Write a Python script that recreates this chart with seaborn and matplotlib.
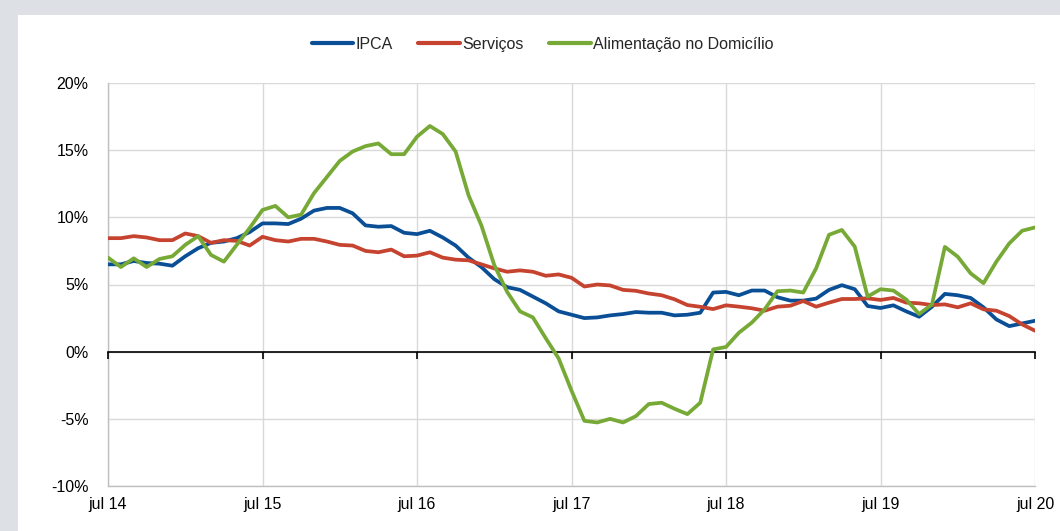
import numpy as np
import pandas as pd
import matplotlib
matplotlib.use("Agg")
import matplotlib.pyplot as plt
from matplotlib.patches import Rectangle
import seaborn as sns

# ---- data (12-month % change, monthly jul/14 .. jul/20) ----
ipca = [6.5, 6.5, 6.75, 6.6, 6.55, 6.4, 7.1, 7.7, 8.1, 8.2, 8.45, 8.9, 9.55,
        9.55, 9.5, 9.9, 10.5, 10.7, 10.7, 10.3, 9.4, 9.3, 9.35, 8.85, 8.75,
        9.0, 8.5, 7.9, 7.0, 6.3, 5.4, 4.8, 4.6, 4.1, 3.6, 3.0, 2.75,
        2.5, 2.55, 2.7, 2.8, 2.95, 2.9, 2.9, 2.7, 2.75, 2.9, 4.4, 4.45,
        4.2, 4.55, 4.55, 4.05, 3.8, 3.8, 3.95, 4.6, 4.95, 4.65, 3.4, 3.25,
        3.45, 3.0, 2.6, 3.35, 4.3, 4.2, 4.0, 3.3, 2.4, 1.9, 2.1, 2.3]
servicos = [8.45, 8.45, 8.6, 8.5, 8.3, 8.3, 8.8, 8.6, 8.1, 8.3, 8.25, 7.9, 8.55,
            8.3, 8.2, 8.4, 8.4, 8.2, 7.95, 7.9, 7.5, 7.4, 7.6, 7.1, 7.15,
            7.4, 7.0, 6.85, 6.8, 6.5, 6.2, 5.95, 6.05, 5.95, 5.65, 5.75, 5.5,
            4.85, 5.0, 4.93, 4.6, 4.53, 4.33, 4.2, 3.9, 3.47, 3.34, 3.17, 3.45,
            3.35, 3.23, 3.05, 3.35, 3.42, 3.77, 3.35, 3.65, 3.92, 3.92, 3.97, 3.85,
            4.0, 3.65, 3.6, 3.47, 3.52, 3.3, 3.6, 3.15, 3.05, 2.65, 2.03, 1.56]
alimentacao = [7.0, 6.3, 6.95, 6.3, 6.9, 7.1, 7.95, 8.6, 7.2, 6.7, 7.95, 9.2, 10.55,
               10.85, 10.0, 10.2, 11.8, 13.0, 14.2, 14.9, 15.3, 15.5, 14.7, 14.7, 16.0,
               16.8, 16.2, 14.9, 11.65, 9.4, 6.45, 4.45, 3.0, 2.55, 1.0, -0.5, -2.9,
               -5.15, -5.27, -5.0, -5.27, -4.8, -3.9, -3.8, -4.25, -4.65, -3.8, 0.17, 0.35,
               1.41, 2.16, 3.15, 4.5, 4.55, 4.4, 6.2, 8.7, 9.06, 7.82, 4.1, 4.65,
               4.55, 3.88, 2.8, 3.52, 7.8, 7.07, 5.83, 5.1, 6.7, 8.06, 9.0, 9.25]
series_names = ["IPCA", "Serviços", "Alimentação no Domicílio"]
tick_labels = ["jul 14", "jul 15", "jul 16", "jul 17", "jul 18", "jul 19", "jul 20"]
y_ticks = [-10, -5, 0, 5, 10, 15, 20]

colors = ["#0A4F96", "#C5432F", "#76A935"]

months = np.arange(len(ipca))
df = pd.concat([
    pd.DataFrame({"m": months, "v": vals, "s": name})
    for name, vals in zip(series_names, [ipca, servicos, alimentacao])
])

sns.set_style("white")
plt.rcParams["font.family"] = ["Liberation Sans Narrow", "Liberation Sans", "DejaVu Sans"]

fig = plt.figure(figsize=(10.6, 5.31), dpi=100, facecolor="#DDE1E6")
fig.patches.append(Rectangle((18 / 1060, 0), 1, 1 - 15 / 531, transform=fig.transFigure,
                             facecolor="white", edgecolor="none", zorder=-10))
ax = fig.add_axes([108 / 1060, 1 - 486 / 531, (1035 - 108) / 1060, (486 - 83) / 531])
ax.set_zorder(5)
ax.set_facecolor("white")

sns.lineplot(data=df, x="m", y="v", hue="s", palette=colors, linewidth=2.7,
             ax=ax, legend=False, zorder=3)

ax.set_xlim(0, 72)
ax.set_ylim(-10, 20)
ax.set_xticks(np.arange(0, 73, 12))
ax.set_xticklabels(tick_labels)
ax.set_yticks(y_ticks)
ax.set_yticklabels([f"{t}%" for t in y_ticks])
ax.grid(True, color="#D9D9D9", linewidth=1.0)
ax.set_axisbelow(True)
ax.tick_params(axis="both", length=0, labelsize=11.5, colors="#000000")
ax.tick_params(axis="y", pad=14)
ax.tick_params(axis="x", pad=8)
ax.set_xlabel("")
ax.set_ylabel("")
for side in ["top", "right"]:
    ax.spines[side].set_visible(False)
for side in ["left", "bottom"]:
    ax.spines[side].set_color("#BFBFBF")
    ax.spines[side].set_linewidth(1.0)

# zero axis with tick marks (drawn above grid, below the series)
sec = ax.secondary_xaxis(1 / 3)
sec.set_zorder(2.5)
sec.set_xticks(np.arange(0, 73, 12))
sec.set_xticklabels([])
sec.tick_params(axis="x", direction="out", length=5, width=1.2, color="black")
sec.spines["bottom"].set_color("black")
sec.spines["bottom"].set_linewidth(1.2)

handles = [plt.Line2D([], [], color=c, linewidth=3) for c in colors]
fig.legend(handles, series_names, loc="center", bbox_to_anchor=(0.512, 0.917),
           ncol=3, frameon=False, fontsize=11.5, handlelength=2.6,
           handletextpad=0.15, columnspacing=1.6)

fig.savefig("out.png", dpi=100, facecolor=fig.get_facecolor())
